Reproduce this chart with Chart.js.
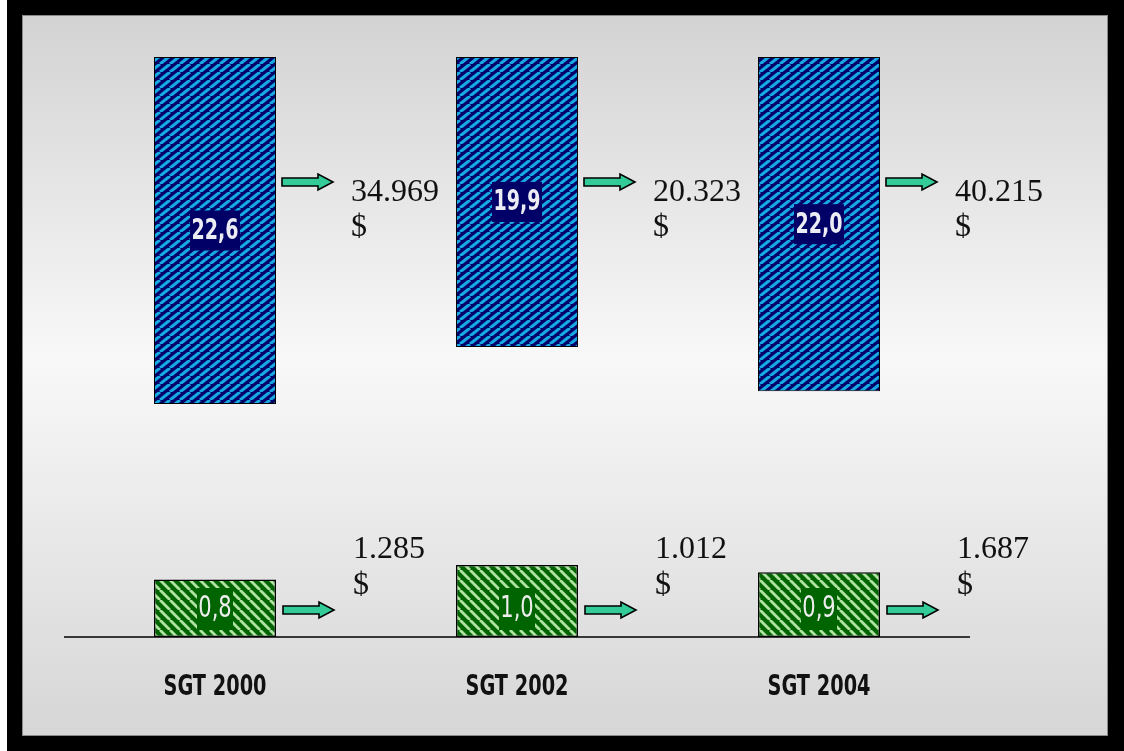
<!DOCTYPE html>
<html>
<head>
<meta charset="utf-8">
<script src="https://cdn.jsdelivr.net/npm/chart.js@4/dist/chart.umd.min.js"></script>
<style>
  html, body { margin: 0; padding: 0; background: #fff; }
  canvas { display: block; }
</style>
</head>
<body>
<canvas id="chart" width="1124" height="751"></canvas>
<script>
// values
const categories = ["SGT 2000", "SGT 2002", "SGT 2004"];
const topValues = [22.6, 19.9, 22.0];
const bottomValues = [0.8, 1.0, 0.9];
const topLabels = ["22,6", "19,9", "22,0"];
const bottomLabels = ["0,8", "1,0", "0,9"];
const topAmounts = ["34.969", "20.323", "40.215"];
const bottomAmounts = ["1.285", "1.012", "1.687"];

// the top bars hang from a truncated, reversed axis
const TOP_AXIS_MIN = 6.2;

const BOLD_FONT = "bold 29px 'DejaVu Sans Condensed', 'DejaVu Sans', sans-serif";
const PLAIN_FONT = "30px 'DejaVu Sans Condensed', 'DejaVu Sans', sans-serif";
const SERIF_FONT = "32px 'Liberation Serif', 'Times New Roman', serif";

function makeHatch(w, h, bg, fg, lineW, dir) {
    const c = document.createElement("canvas");
    c.width = w;
    c.height = h;
    const g = c.getContext("2d");
    g.fillStyle = bg;
    g.fillRect(0, 0, w, h);
    g.strokeStyle = fg;
    g.lineWidth = lineW;
    for (let k = -1; k <= 1; k++) {
        g.beginPath();
        if (dir === "up") {
            g.moveTo(k * w, h);
            g.lineTo(k * w + w, 0);
        } else {
            g.moveTo(k * w, 0);
            g.lineTo(k * w + w, h);
        }
        g.stroke();
    }
    return g.createPattern(c, "repeat");
}

const ctx0 = document.getElementById("chart").getContext("2d");
const bluePattern = makeHatch(10, 8, "#000068", "#17a9e2", 3.1, "up");
const greenPattern = makeHatch(10, 10, "#006400", "#b0e2a2", 2.8, "down");

// narrow text: squeeze horizontally around x
function narrowText(ctx, text, x, y, sx) {
    ctx.save();
    ctx.translate(x, y);
    ctx.scale(sx, 1);
    ctx.fillText(text, 0, 0);
    ctx.restore();
}

function drawArrow(ctx, x0, x1, y) {
    const head = 15;
    ctx.beginPath();
    ctx.moveTo(x0, y - 4);
    ctx.lineTo(x1 - head, y - 4);
    ctx.lineTo(x1 - head, y - 8);
    ctx.lineTo(x1, y);
    ctx.lineTo(x1 - head, y + 8);
    ctx.lineTo(x1 - head, y + 4);
    ctx.lineTo(x0, y + 4);
    ctx.closePath();
    ctx.fillStyle = "#33cc99";
    ctx.fill();
    ctx.lineWidth = 1.6;
    ctx.strokeStyle = "#000";
    ctx.stroke();
}

const backdrop = {
    id: "backdrop",
    beforeDraw(chart) {
        const ctx = chart.ctx;
        ctx.save();
        ctx.fillStyle = "#fff";
        ctx.fillRect(0, 0, 1124, 751);
        ctx.fillStyle = "#000";
        ctx.fillRect(7, 0, 1117, 751);
        const grad = ctx.createLinearGradient(0, 15, 0, 736);
        grad.addColorStop(0, "#d3d3d3");
        grad.addColorStop(0.48, "#f8f8f8");
        grad.addColorStop(1, "#d6d6d6");
        ctx.fillStyle = grad;
        ctx.fillRect(22, 15, 1086, 721);
        ctx.strokeStyle = "#8a8a8a";
        ctx.lineWidth = 1;
        ctx.strokeRect(22.5, 15.5, 1085, 720);
        ctx.restore();
    }
};

const annotations = {
    id: "annotations",
    afterDatasetsDraw(chart) {
        const ctx = chart.ctx;
        const area = chart.chartArea;
        const topBars = chart.getDatasetMeta(0).data;
        const bottomBars = chart.getDatasetMeta(1).data;
        ctx.save();

        // baseline
        ctx.strokeStyle = "#000";
        ctx.lineWidth = 1.6;
        ctx.beginPath();
        ctx.moveTo(area.left, area.bottom);
        ctx.lineTo(area.right, area.bottom);
        ctx.stroke();

        topBars.forEach((bar, i) => {
            const right = bar.x + bar.width / 2;
            const cy = (bar.y + bar.base) / 2;
            ctx.fillStyle = "#000066";
            ctx.fillRect(bar.x - 25, cy - 20, 50, 40);
            ctx.fillStyle = "#ececf4";
            ctx.font = BOLD_FONT;
            ctx.textAlign = "center";
            ctx.textBaseline = "middle";
            narrowText(ctx, topLabels[i], bar.x, cy + 1, 0.73);

            drawArrow(ctx, right + 6, right + 57, area.top + 125);

            ctx.fillStyle = "#111";
            ctx.font = SERIF_FONT;
            ctx.textAlign = "left";
            ctx.textBaseline = "alphabetic";
            ctx.fillText(topAmounts[i], right + 75, area.top + 144);
            ctx.fillText("$", right + 75, area.top + 179);
        });

        bottomBars.forEach((bar, i) => {
            const right = bar.x + bar.width / 2;
            ctx.fillStyle = "#006400";
            ctx.fillRect(bar.x - 18, area.bottom - 49, 36, 42);
            ctx.fillStyle = "#eeeeee";
            ctx.font = PLAIN_FONT;
            ctx.textAlign = "center";
            ctx.textBaseline = "middle";
            narrowText(ctx, bottomLabels[i], bar.x, area.bottom - 28, 0.78);

            drawArrow(ctx, right + 7, right + 58, area.bottom - 27);

            ctx.fillStyle = "#111";
            ctx.font = SERIF_FONT;
            ctx.textAlign = "left";
            ctx.textBaseline = "alphabetic";
            ctx.fillText(bottomAmounts[i], right + 77, area.bottom - 79);
            ctx.fillText("$", right + 77, area.bottom - 43);
        });

        // category labels
        const xScale = chart.scales.x;
        ctx.fillStyle = "#111";
        ctx.font = BOLD_FONT;
        ctx.textAlign = "center";
        ctx.textBaseline = "middle";
        categories.forEach((cat, i) => {
            narrowText(ctx, cat, xScale.getPixelForValue(i), area.bottom + 50, 0.74);
        });
        ctx.restore();
    }
};

new Chart(ctx0, {
    type: "bar",
    data: {
        labels: categories,
        datasets: [
            {
                label: "top",
                data: topValues,
                yAxisID: "yTop",
                base: TOP_AXIS_MIN,
                backgroundColor: bluePattern,
                borderColor: "#000",
                borderWidth: 1,
                borderSkipped: false,
                grouped: false,
                categoryPercentage: 1,
                barPercentage: 0.404,
            },
            {
                label: "bottom",
                data: bottomValues,
                yAxisID: "yBottom",
                backgroundColor: greenPattern,
                borderColor: "#000",
                borderWidth: 1.5,
                borderSkipped: false,
                grouped: false,
                categoryPercentage: 1,
                barPercentage: 0.404,
            },
        ],
    },
    options: {
        responsive: false,
        animation: false,
        layout: {
            padding: { left: 64, right: 154, top: 57, bottom: 114 },
        },
        scales: {
            x: { display: false, offset: true },
            yTop: { display: false, reverse: true, min: TOP_AXIS_MIN, max: 33.61 },
            yBottom: { display: false, min: 0, max: 8.06 },
        },
        plugins: {
            legend: { display: false },
            tooltip: { enabled: false },
        },
    },
    plugins: [backdrop, annotations],
});
</script>
</body>
</html>
